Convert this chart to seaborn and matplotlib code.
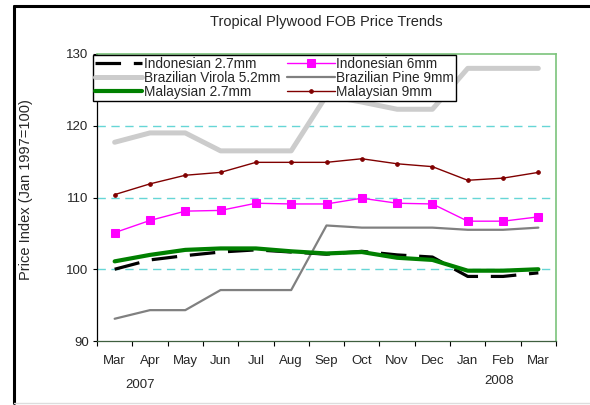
import matplotlib
matplotlib.use("Agg")
import matplotlib.pyplot as plt
from matplotlib.lines import Line2D
import seaborn as sns
import pandas as pd

# data
months = ["Mar", "Apr", "May", "Jun", "Jul", "Aug", "Sep",
          "Oct", "Nov", "Dec", "Jan", "Feb", "Mar"]
indonesian_27 = [100.0, 101.3, 101.9, 102.4, 102.7, 102.4, 102.1,
                 102.5, 102.0, 101.7, 99.0, 99.0, 99.5]
indonesian_6 = [105.1, 106.8, 108.1, 108.2, 109.2, 109.1, 109.1,
                109.9, 109.2, 109.1, 106.7, 106.7, 107.3]
virola_52 = [117.7, 119.0, 119.0, 116.5, 116.5, 116.5, 124.2,
             123.3, 122.3, 122.3, 128.0, 128.0, 128.0]
pine_9 = [93.1, 94.3, 94.3, 97.1, 97.1, 97.1, 106.1,
          105.8, 105.8, 105.8, 105.5, 105.5, 105.8]
malaysian_27 = [101.1, 102.0, 102.7, 102.9, 102.9, 102.5, 102.2,
                102.4, 101.6, 101.3, 99.8, 99.8, 100.0]
malaysian_9 = [110.4, 111.9, 113.1, 113.5, 114.9, 114.9, 114.9,
               115.4, 114.7, 114.3, 112.4, 112.7, 113.5]
years = ["2007", "2008"]
grid_levels = [100, 110, 120]

sns.set_theme(style="white")
plt.rcParams["font.family"] = ["Liberation Sans", "DejaVu Sans"]
plt.rcParams["font.size"] = 9

fig = plt.figure(figsize=(5.9, 4.05), dpi=100)
ax = fig.add_axes([97 / 590, 1 - 341 / 405, 459 / 590, 287 / 405])

x = list(range(len(months)))

# series: name, values, style
series = [
    ("Indonesian 2.7mm", indonesian_27, dict(color="black", lw=2.3, linestyle=(0, (8, 4)))),
    ("Brazilian Virola 5.2mm", virola_52, dict(color="#CCCCCC", lw=3.6)),
    ("Malaysian 2.7mm", malaysian_27, dict(color="#008000", lw=3.0)),
    ("Indonesian 6mm", indonesian_6, dict(color="#FF00FF", lw=1.0, marker="s", ms=6,
                                           mec="#FF00FF", mfc="#FF00FF")),
    ("Brazilian Pine 9mm", pine_9, dict(color="#808080", lw=1.6)),
    ("Malaysian 9mm", malaysian_9, dict(color="#800000", lw=1.0, marker="o", ms=2.6,
                                         mec="#800000", mfc="#800000")),
]
draw_order = [4, 1, 5, 3, 0, 2]
for i in draw_order:
    name, vals, kw = series[i]
    sns.lineplot(x=x, y=vals, ax=ax, label=name, sort=False, **kw)

for lvl in grid_levels:
    ax.axhline(lvl, color="#66D6D6", lw=1.0, linestyle=(0, (6, 4)), zorder=1)

ax.set_xlim(-0.5, len(months) - 0.5)
ax.set_ylim(90, 130)
ax.set_yticks([90, 100, 110, 120, 130])
ax.set_xticks(x)
ax.set_xticklabels(months)
ax.set_xticks([i - 0.5 for i in range(len(months) + 1)], minor=True)
ax.tick_params(axis="x", which="major", length=0, pad=10, labelsize=9.5)
ax.tick_params(axis="x", which="minor", length=3.5, width=0.8, color="black",
               direction="out", bottom=True)
ax.tick_params(axis="y", length=3, width=0.8, color="black", direction="out",
               left=True, labelsize=9.5, pad=3)

for side in ["top", "right"]:
    ax.spines[side].set_color("#7CC47C")
    ax.spines[side].set_linewidth(1.2)
ax.spines["left"].set_color("black")
ax.spines["left"].set_linewidth(0.9)
ax.spines["bottom"].set_color("#3F5F3F")
ax.spines["bottom"].set_linewidth(0.9)

ax.set_xlabel("")
ax.set_ylabel("Price Index (Jan 1997=100)", fontsize=10.5)
ax.yaxis.set_label_coords(-0.139, 0.526)

ax.text(0.72, -0.155, years[0], transform=ax.get_xaxis_transform(),
        ha="center", va="center", fontsize=9.5)
ax.text(10.9, -0.14, years[1], transform=ax.get_xaxis_transform(),
        ha="center", va="center", fontsize=9.5)

fig.text(326 / 590, 1 - 22 / 405, "Tropical Plywood FOB Price Trends",
         ha="center", va="center", fontsize=10.5)

handles, labels = ax.get_legend_handles_labels()
lookup = dict(zip(labels, handles))
order = [s[0] for s in series]
leg = ax.legend([lookup[n] for n in order], order, ncol=2, loc="upper left",
                bbox_to_anchor=(-0.0094, 0.996), borderaxespad=0,
                frameon=True, fancybox=False, framealpha=1, edgecolor="black",
                fontsize=9.8, handlelength=3.5, handletextpad=0.1,
                labelspacing=0.0, columnspacing=0.5, borderpad=0.15)
leg.get_frame().set_linewidth(1.0)
leg.set_zorder(5)

# outer frame of the original figure
fig.add_artist(Line2D([14 / 590, 14 / 590], [1 - 403 / 405, 1 - 6 / 405],
                      transform=fig.transFigure, color="black", lw=2.2))
fig.add_artist(Line2D([14 / 590, 1.0], [1 - 6 / 405, 1 - 6 / 405],
                      transform=fig.transFigure, color="black", lw=2.2))
fig.add_artist(Line2D([14 / 590, 1.0], [1 - 403 / 405, 1 - 403 / 405],
                      transform=fig.transFigure, color="#DDDDDD", lw=1.0))

fig.savefig("out.png", dpi=100)
